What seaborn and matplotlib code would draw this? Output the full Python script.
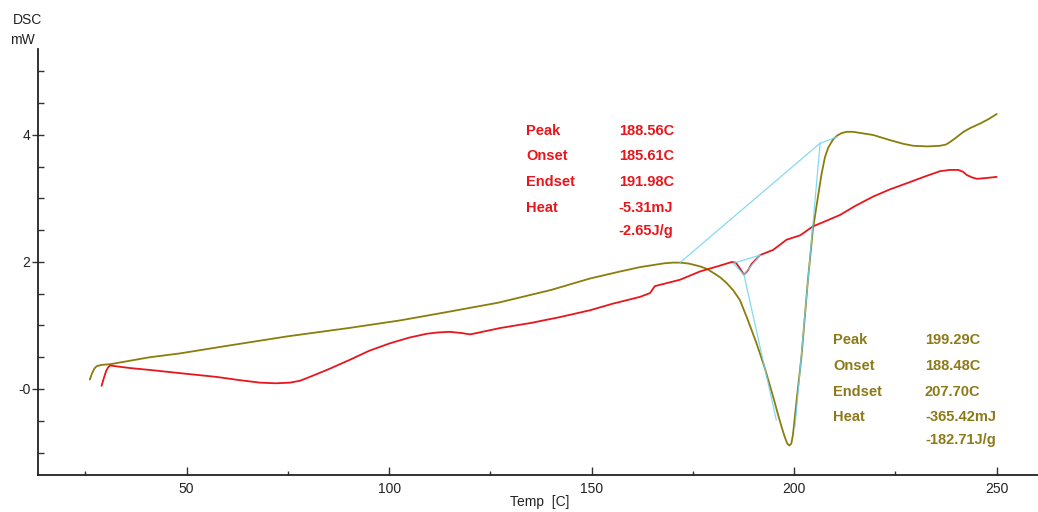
import numpy as np
import pandas as pd
import matplotlib
matplotlib.use("Agg")
import matplotlib.pyplot as plt
from matplotlib.ticker import FixedLocator
import seaborn as sns

sns.set_style("white")
plt.rcParams['font.family'] = ['Liberation Sans', 'DejaVu Sans']

# olive run (sample 2)
olive_temp = [26.1, 26.6, 27.2, 27.8, 29.0, 31.1, 40.9, 48.3, 60, 75, 90, 102.7, 115, 127, 140,
              149.6, 157, 162, 165, 168, 170, 171.8, 174, 176.8, 178.5, 180, 181.7, 183.3, 185,
              186.6, 188.3, 190.7, 192.8, 194.8, 196.0, 197.0, 197.7, 198.3, 198.8, 199.3,
              199.7, 200.7, 201.8, 203.4, 204.6, 205.8, 206.8, 207.6, 208.4, 209.6, 210.6,
              211.7, 213.0, 214.5, 216.5, 219.5, 223.6, 227, 229.4, 233, 236.0, 237.5, 238.5,
              240, 241.8, 243.5, 245.9, 248, 250.0]
olive_dsc = [0.15, 0.24, 0.32, 0.36, 0.38, 0.39, 0.50, 0.56, 0.68, 0.83, 0.96, 1.08, 1.22, 1.36,
             1.56, 1.74, 1.85, 1.92, 1.95, 1.98, 1.99, 1.99, 1.975, 1.93, 1.89, 1.83, 1.76,
             1.67, 1.55, 1.40, 1.13, 0.72, 0.32, -0.12, -0.40, -0.62, -0.76, -0.86, -0.89,
             -0.86, -0.72, -0.12, 0.51, 1.72, 2.5, 3.0, 3.40, 3.65, 3.80, 3.93, 3.99, 4.03,
             4.05, 4.05, 4.03, 4.0, 3.92, 3.86, 3.83, 3.82, 3.83, 3.85, 3.89, 3.96, 4.05, 4.11,
             4.18, 4.25, 4.33]

# red run (sample 1)
red_temp = [29.0, 29.6, 30.1, 30.6, 31.1, 32.3, 36, 40.9, 48.3, 57.4, 63, 68.1, 72, 75.5, 78,
            80.4, 85, 90.3, 95, 100.2, 105, 109.3, 112, 115.0, 118, 120.0, 123, 127.4, 135,
            142, 149.6, 155, 161.9, 164.4, 165.6, 171.8, 176.7, 181, 184.6, 185.6, 186.6,
            187.6, 188.5, 189.5, 191.6, 194.8, 198.1, 201.5, 204.6, 208, 211.3, 215, 219.5,
            223.5, 227.8, 232, 236.0, 238.5, 240.5, 241.7, 242.6, 244, 245.1, 247, 250]
red_dsc = [0.05, 0.18, 0.28, 0.34, 0.37, 0.36, 0.33, 0.30, 0.25, 0.19, 0.14, 0.10, 0.09, 0.10,
           0.13, 0.19, 0.31, 0.46, 0.60, 0.72, 0.81, 0.87, 0.89, 0.90, 0.88, 0.86, 0.90, 0.96,
           1.04, 1.13, 1.24, 1.34, 1.45, 1.51, 1.62, 1.72, 1.85, 1.93, 2.0, 1.99, 1.90,
           1.80, 1.86, 1.97, 2.11, 2.19, 2.35, 2.42, 2.56, 2.65, 2.74, 2.88, 3.03,
           3.14, 3.24, 3.34, 3.43, 3.45, 3.45, 3.42, 3.37, 3.33, 3.31, 3.32, 3.34]

# analysis construction lines (baseline / tangents)
cyan_segments = [
    ([171.8, 206.4], [1.99, 3.87]),
    ([206.4, 210.6], [3.87, 3.97]),
    ([206.4, 200.2], [3.87, -0.6]),
    ([187.6, 195.6], [1.80, -0.49]),
    ([185.0, 191.6], [1.98, 2.11]),
    ([185.0, 187.6], [1.98, 1.80]),
    ([187.6, 191.6], [1.80, 2.11]),
]

result_keys = ["Peak", "Onset", "Endset", "Heat", ""]
red_values = ["188.56C", "185.61C", "191.98C", "-5.31mJ", "-2.65J/g"]
olive_values = ["199.29C", "188.48C", "207.70C", "-365.42mJ", "-182.71J/g"]

red_c = "#e8161c"
olive_c = "#8a7d0c"
olive_txt = "#8c7a18"
cyan_c = "#6fd3f0"

fig = plt.figure(figsize=(10.38, 5.12), dpi=100)
ax = fig.add_axes([0.0366, 0.0723, 0.9634, 0.8320])

df_o = pd.DataFrame({"Temp": olive_temp, "DSC": olive_dsc})
df_r = pd.DataFrame({"Temp": red_temp, "DSC": red_dsc})
sns.lineplot(data=df_o, x="Temp", y="DSC", sort=False, estimator=None, color=olive_c, lw=1.3, ax=ax)
sns.lineplot(data=df_r, x="Temp", y="DSC", sort=False, estimator=None, color=red_c, lw=1.3, ax=ax)
for xs, ys in cyan_segments:
    ax.plot(xs, ys, color=cyan_c, lw=0.9, alpha=0.85, zorder=5)

ax.set_xlim(13.3, 260.2)
ax.set_ylim(-1.354, 5.354)

ax.xaxis.set_major_locator(FixedLocator([50, 100, 150, 200, 250]))
ax.xaxis.set_minor_locator(FixedLocator([25, 75, 125, 175, 225]))
ax.yaxis.set_major_locator(FixedLocator([0, 2, 4]))
ax.yaxis.set_minor_locator(FixedLocator([-1, -0.5, 0.5, 1, 1.5, 2.5, 3, 3.5, 4.5, 5]))
ax.set_yticklabels(["-0", "2", "4"])
ax.tick_params(axis="x", which="both", bottom=True)
ax.tick_params(axis="y", which="both", left=True)
ax.tick_params(axis="x", which="major", direction="in", length=6, width=1, labelsize=10, pad=5)
ax.tick_params(axis="x", which="minor", direction="in", length=3, width=1)
ax.tick_params(axis="y", which="major", direction="inout", length=9, width=1, labelsize=10, pad=1)
ax.tick_params(axis="y", which="minor", direction="in", length=4, width=1)
ax.tick_params(which="both", colors="#333333", labelcolor="#222222")

for s in ["top", "right"]:
    ax.spines[s].set_visible(False)
for s in ["left", "bottom"]:
    ax.spines[s].set_linewidth(1.3)
    ax.spines[s].set_color("#222222")

ax.set_xlabel("")
ax.set_ylabel("")
fig.text(540 / 1038, 1 - 502 / 512, "Temp  [C]", ha="center", va="center", fontsize=10, color="#222222")
fig.text(28 / 1038, 1 - 20 / 512, "DSC", ha="center", va="center", fontsize=10, color="#222222")
fig.text(22 / 1038, 1 - 40 / 512, "mW", ha="center", va="center", fontsize=10, color="#222222")

red_rows = [4.06, 3.67, 3.26, 2.85, 2.49]
olive_rows = [0.77, 0.36, -0.05, -0.44, -0.80]
for k, v, yy in zip(result_keys, red_values, red_rows):
    ax.text(133.8, yy, k, color=red_c, fontsize=10.5, fontweight="bold", va="center")
    ax.text(156.7, yy, v, color=red_c, fontsize=10.5, fontweight="bold", va="center")
for k, v, yy in zip(result_keys, olive_values, olive_rows):
    ax.text(209.6, yy, k, color=olive_txt, fontsize=10.5, fontweight="bold", va="center")
    ax.text(232.3, yy, v, color=olive_txt, fontsize=10.5, fontweight="bold", va="center")

fig.savefig("out.png", dpi=100)
